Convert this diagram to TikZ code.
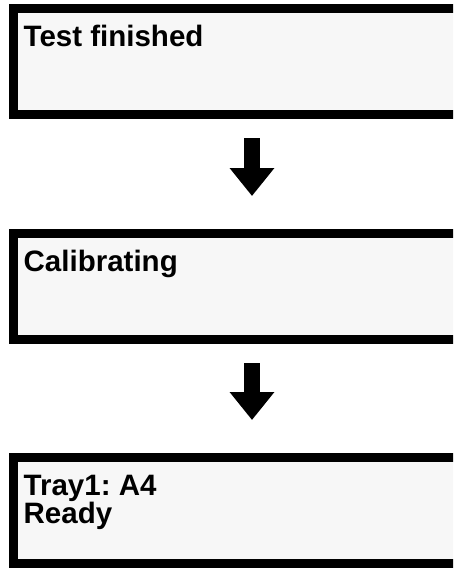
\documentclass[tikz,border=0pt]{standalone}
\usepackage{fontspec}
\setmainfont{Liberation Sans}
\usetikzlibrary{positioning,arrows.meta}

\definecolor{screengray}{HTML}{F7F7F7}

\tikzset{
    screen/.style={rectangle, draw=black, line width=9pt, fill=screengray,
        minimum width=470pt, minimum height=106pt, inner sep=0pt},
    msg/.style={anchor=base west, inner sep=0pt, align=left,
        font=\fontsize{29.5}{28}\selectfont\bfseries\frenchspacing},
    flow/.style={line width=16pt, -{Triangle[width=43pt,length=28pt]},
        shorten <=19pt, shorten >=33pt}
}

\begin{document}
\begin{tikzpicture}
    \useasboundingbox (0,0) rectangle (453pt,-568pt);
    \clip (0,0) rectangle (453pt,-568pt);

    % display screens
    \node [screen, anchor=north west] (s1) at (9pt,-4pt) {};
    \node [screen, below=110pt of s1.south west, anchor=north west] (s2) {};
    \node [screen, below=109pt of s2.south west, anchor=north west] (s3) {};

    % messages (base of the last line)
    \node [msg] (m1) at ([xshift=14.5pt,yshift=-42.7pt]s1.north west) {Test finished};
    \node [msg] (m2) at ([xshift=14.5pt,yshift=-42.7pt]s2.north west) {Calibrating};
    \node [msg] (m3) at ([xshift=14.5pt,yshift=-70pt]s3.north west) {Tray1: A4\\Ready};

    % steps
    \draw [flow] ([xshift=243pt]s1.south west) -- ([xshift=243pt]s2.north west);
    \draw [flow] ([xshift=243pt]s2.south west) -- ([xshift=243pt]s3.north west);

\end{tikzpicture}
\end{document}
